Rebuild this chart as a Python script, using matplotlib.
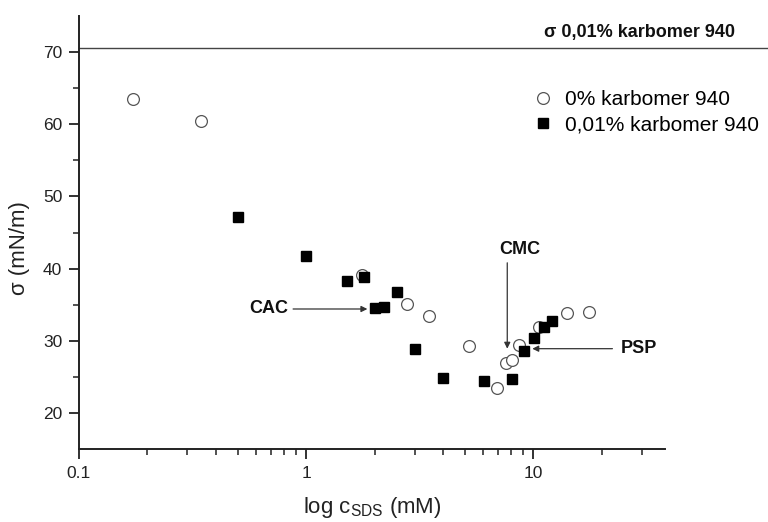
import matplotlib
matplotlib.use('Agg')
import matplotlib.pyplot as plt
from matplotlib.ticker import LogLocator, FixedLocator, FixedFormatter, NullFormatter

plt.rcParams['font.family'] = ['Liberation Sans', 'DejaVu Sans']
plt.rcParams['mathtext.fontset'] = 'custom'
plt.rcParams['mathtext.rm'] = 'Liberation Sans'

# 0% karbomer 940 (open circles)
c_0 = [0.173, 0.345, 1.76, 2.79, 3.48, 5.22, 6.94, 7.6, 8.08, 8.68, 10.6, 14.1, 17.5]
s_0 = [63.5, 60.4, 39.1, 35.1, 33.4, 29.3, 23.5, 26.9, 27.4, 29.4, 31.9, 33.9, 34.0]

# 0,01% karbomer 940 (filled squares)
c_1 = [0.50, 1.0, 1.51, 1.8, 2.01, 2.21, 2.51, 3.02, 4.01, 6.08, 8.08, 9.12, 10.1, 11.2, 12.1]
s_1 = [47.1, 41.8, 38.3, 38.9, 34.5, 34.7, 36.8, 28.8, 24.9, 24.4, 24.7, 28.6, 30.4, 31.9, 32.7]

sigma_ref = 70.5

fig = plt.figure(figsize=(7.68, 5.22), dpi=100)
ax = fig.add_axes([79/768, 1 - 449/522, (665 - 79)/768, (449 - 16)/522])

ax.plot(c_0, s_0, 'o', mfc='white', mec='#555555', mew=0.9, ms=8.5,
        label='0% karbomer 940', zorder=3)
ax.plot(c_1, s_1, 's', color='black', ms=7, label='0,01% karbomer 940', zorder=4)

ax.axhline(sigma_ref, xmin=0, xmax=(768 - 79)/(665 - 79), color='#444444', lw=1.0,
           clip_on=False)
fig.text(735/768, 1 - 32/522, 'σ 0,01% karbomer 940', ha='right', va='center',
         fontsize=13, fontweight='bold', color='#111111')

ax.set_xscale('log')
ax.set_xlim(0.1, 38)
ax.set_ylim(15, 75)
ax.yaxis.set_major_locator(FixedLocator([20, 30, 40, 50, 60, 70]))
ax.yaxis.set_minor_locator(FixedLocator([25, 35, 45, 55, 65]))
ax.xaxis.set_major_locator(FixedLocator([0.1, 1, 10]))
ax.xaxis.set_major_formatter(FixedFormatter(['0.1', '1', '10']))
ax.xaxis.set_minor_locator(LogLocator(base=10, subs=range(2, 10)))
ax.xaxis.set_minor_formatter(NullFormatter())

for s in ['top', 'right']:
    ax.spines[s].set_visible(False)
for s in ['left', 'bottom']:
    ax.spines[s].set_linewidth(1.4)
    ax.spines[s].set_color('#222222')
ax.tick_params(which='major', direction='out', length=7, width=1.3, labelsize=12.5,
               colors='#222222', pad=5)
ax.tick_params(which='minor', direction='out', length=4, width=1.1, colors='#222222')

ax.set_ylabel('σ (mN/m)', fontsize=16, color='#222222')
ax.yaxis.set_label_coords((20 - 79)/586, (449 - 248)/433)
ax.yaxis.label.set_va('center')
ax.set_xlabel(r'log c$_{\mathregular{SDS}}$ (mM)', fontsize=16, color='#222222')
ax.xaxis.set_label_coords((372 - 79)/586, (449 - 508)/433)
ax.xaxis.label.set_va('center')

arrow = dict(arrowstyle='-|>', color='#333333', lw=0.9, mutation_scale=9, shrinkA=0, shrinkB=0)
ax.annotate('', xy=(7.68, 28.9), xytext=(7.68, 40.8), arrowprops=arrow)
ax.text(8.68, 42.6, 'CMC', ha='center', va='center', fontsize=13, fontweight='bold',
        color='#111111')
ax.annotate('', xy=(1.86, 34.4), xytext=(0.876, 34.4), arrowprops=arrow)
ax.text(0.833, 34.4, 'CAC', ha='right', va='center', fontsize=13, fontweight='bold',
        color='#111111')
ax.annotate('', xy=(9.9, 28.9), xytext=(22.3, 28.9), arrowprops=arrow)
ax.text(24.2, 28.9, 'PSP', ha='left', va='center', fontsize=13, fontweight='bold',
        color='#111111')

ax.legend(loc='upper left', bbox_to_anchor=(533/768, (522 - 90)/522),
          bbox_transform=fig.transFigure, frameon=False, fontsize=15,
          handlelength=1.0, handletextpad=0.55, labelspacing=0.3, borderaxespad=0,
          borderpad=0)

fig.savefig('out.png', dpi=100)
